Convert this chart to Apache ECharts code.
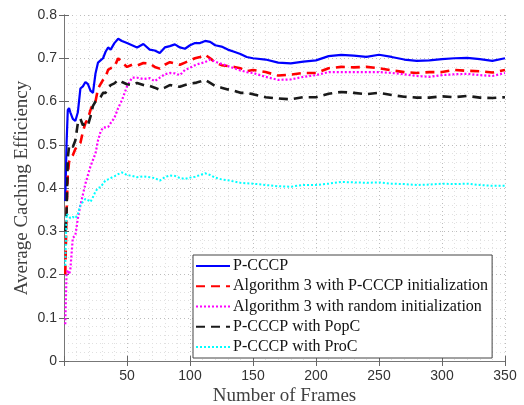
<!DOCTYPE html>
<html lang="en">
<head>
    <meta charset="UTF-8">
    <title>caching efficiency</title>
    <script src="https://cdn.jsdelivr.net/npm/echarts@6/dist/echarts.min.js"></script>
    <style>
        html, body { margin: 0; padding: 0; background: #fff; }
    </style>
</head>
<body>
<div id="main" style="width:524px;height:405px;"></div>
<script>
    // frame numbers shared by every curve
    var frames = [1, 2, 3, 4, 5, 7, 9, 11, 13, 15, 17, 19, 21, 23, 25, 27, 29, 31, 33, 35, 37, 40, 43, 46, 50,
        54, 58, 63, 68, 72, 76, 80, 84, 88, 92, 96, 100, 104, 108, 112, 116, 120, 125, 130, 135, 140, 145, 150,
        160, 170, 180, 190, 200, 210, 220, 230, 240, 250, 260, 270, 280, 290, 300, 310, 320, 330, 340, 350];

    var pcccp = [0.37, 0.50, 0.58, 0.585, 0.575, 0.56, 0.555, 0.575, 0.63, 0.635, 0.645, 0.64, 0.625, 0.62, 0.665, 0.69, 0.695, 0.70, 0.715, 0.725, 0.72, 0.735, 0.745, 0.74, 0.735,
        0.73, 0.725, 0.733, 0.72, 0.718, 0.712, 0.725, 0.728, 0.732, 0.725, 0.722, 0.73, 0.735, 0.735, 0.74, 0.738, 0.73, 0.727, 0.72, 0.715, 0.71, 0.703, 0.70,
        0.697, 0.69, 0.688, 0.692, 0.695, 0.705, 0.708, 0.706, 0.703, 0.708, 0.703, 0.697, 0.694, 0.695, 0.698, 0.70, 0.701, 0.698, 0.694, 0.70];

    var alg3Pcccp = [0.20, 0.34, 0.43, 0.46, 0.47, 0.476, 0.49, 0.50, 0.504, 0.53, 0.55, 0.56, 0.58, 0.595, 0.60, 0.63, 0.64, 0.65, 0.657, 0.673, 0.677, 0.68, 0.70, 0.69, 0.68,
        0.685, 0.683, 0.689, 0.688, 0.68, 0.676, 0.685, 0.691, 0.688, 0.685, 0.69, 0.695, 0.70, 0.703, 0.708, 0.70, 0.69, 0.684, 0.682, 0.68, 0.677, 0.67, 0.673,
        0.668, 0.66, 0.662, 0.666, 0.666, 0.677, 0.68, 0.679, 0.68, 0.677, 0.672, 0.668, 0.666, 0.668, 0.668, 0.673, 0.671, 0.67, 0.667, 0.673];

    var alg3Random = [0.085, 0.20, 0.21, 0.20, 0.21, 0.285, 0.29, 0.33, 0.36, 0.385, 0.41, 0.43, 0.45, 0.465, 0.48, 0.51, 0.53, 0.54, 0.54, 0.541, 0.55, 0.562, 0.585, 0.603, 0.635,
        0.655, 0.655, 0.652, 0.654, 0.647, 0.655, 0.663, 0.666, 0.665, 0.661, 0.673, 0.678, 0.684, 0.688, 0.691, 0.697, 0.692, 0.687, 0.682, 0.677, 0.672, 0.668, 0.666,
        0.657, 0.65, 0.651, 0.657, 0.661, 0.668, 0.668, 0.668, 0.668, 0.668, 0.666, 0.663, 0.659, 0.657, 0.661, 0.663, 0.664, 0.661, 0.659, 0.666];

    var popC = [0.30, 0.34, 0.47, 0.495, 0.50, 0.495, 0.51, 0.55, 0.56, 0.545, 0.55, 0.545, 0.565, 0.59, 0.60, 0.605, 0.61, 0.62, 0.62, 0.63, 0.638, 0.642, 0.65, 0.645, 0.64,
        0.638, 0.643, 0.638, 0.636, 0.632, 0.627, 0.632, 0.638, 0.636, 0.634, 0.638, 0.641, 0.643, 0.646, 0.65, 0.643, 0.636, 0.632, 0.628, 0.625, 0.62, 0.62, 0.617,
        0.61, 0.607, 0.605, 0.61, 0.61, 0.618, 0.622, 0.62, 0.617, 0.62, 0.615, 0.611, 0.609, 0.609, 0.612, 0.61, 0.613, 0.609, 0.608, 0.61];

    var proC = [0.22, 0.34, 0.338, 0.335, 0.33, 0.333, 0.33, 0.34, 0.36, 0.368, 0.375, 0.372, 0.368, 0.379, 0.392, 0.40, 0.402, 0.41, 0.418, 0.42, 0.423, 0.427, 0.432, 0.436, 0.43,
        0.428, 0.425, 0.427, 0.425, 0.423, 0.417, 0.425, 0.429, 0.428, 0.423, 0.421, 0.424, 0.426, 0.43, 0.434, 0.43, 0.424, 0.42, 0.418, 0.415, 0.412, 0.411, 0.41,
        0.407, 0.404, 0.403, 0.407, 0.407, 0.41, 0.414, 0.413, 0.412, 0.413, 0.41, 0.409, 0.407, 0.408, 0.41, 0.409, 0.41, 0.407, 0.405, 0.405];

    var seriesNames = ['P-CCCP', 'Algorithm 3 with P-CCCP initialization', 'Algorithm 3 with random initialization',
        'P-CCCP with PopC', 'P-CCCP with ProC'];

    function pairs(vals) {
        var out = [];
        for (var i = 0; i < frames.length; i++) {
            out.push([frames[i], vals[i]]);
        }
        return out;
    }

    var myChart = echarts.init(document.getElementById('main'));

    var serif = 'Liberation Serif, Times New Roman, serif';
    var tickFont = { fontFamily: 'Liberation Sans, Arial, sans-serif', fontSize: 14, color: '#333' };
    var gridLine = { show: true, lineStyle: { color: '#bdbdbd', type: [1, 3], width: 1 } };
    var minorLine = { show: true, lineStyle: { color: '#e0e0e0', type: [1, 3], width: 1 } };

    function mkSeries(name, data, color, width, type) {
        return {
            name: name,
            type: 'line',
            data: pairs(data),
            symbol: 'none',
            showSymbol: false,
            animation: false,
            lineStyle: { color: color, width: width, type: type },
            itemStyle: { color: color },
            xAxisIndex: 0,
            yAxisIndex: 0
        };
    }

    var option = {
        animation: false,
        grid: { left: 64, right: 19, top: 15, bottom: 44, containLabel: false, outerBoundsMode: 'none' },
        legend: {
            orient: 'vertical',
            left: 193,
            top: 255,
            width: 300,
            padding: [3, 4, 3, 2],
            itemGap: 4.25,
            itemWidth: 34,
            itemHeight: 14,
            borderColor: '#444',
            borderWidth: 1,
            backgroundColor: '#fff',
            itemStyle: { opacity: 0 },
            textStyle: { fontFamily: serif, fontSize: 16, color: '#111', padding: [0, 0, 0, -2] },
            data: seriesNames
        },
        xAxis: [{
            type: 'value',
            min: 0,
            max: 350,
            interval: 50,
            name: 'Number of Frames',
            nameLocation: 'middle',
            nameGap: 26,
            nameMoveOverlap: false,
            nameTextStyle: { fontFamily: serif, fontSize: 19, color: '#404040' },
            axisLine: { show: true, onZero: false, lineStyle: { color: '#777' } },
            axisTick: { show: true, inside: true, length: 5, lineStyle: { color: '#666' } },
            axisLabel: Object.assign({ margin: 8, formatter: function (v) { return v === 0 ? '' : v; } }, tickFont),
            splitLine: gridLine,
            minorTick: { show: false, splitNumber: 5 },
            minorSplitLine: minorLine
        }, {
            type: 'value',
            position: 'top',
            min: 0,
            max: 350,
            interval: 50,
            axisLine: { show: true, lineStyle: { color: '#777' } },
            axisTick: { show: true, inside: true, length: 5, lineStyle: { color: '#666' } },
            axisLabel: { show: false },
            splitLine: { show: false }
        }],
        yAxis: [{
            type: 'value',
            min: 0,
            max: 0.8,
            interval: 0.1,
            name: 'Average Caching Efficiency',
            nameLocation: 'middle',
            nameGap: 32,
            nameMoveOverlap: false,
            nameTextStyle: { fontFamily: serif, fontSize: 19, color: '#404040' },
            axisLine: { show: true, onZero: false, lineStyle: { color: '#777' } },
            axisTick: { show: true, inside: true, length: 5, lineStyle: { color: '#666' } },
            axisLabel: Object.assign({ margin: 7, formatter: function (v) { return v === 0 ? '0' : v.toFixed(1); } }, tickFont),
            splitLine: gridLine,
            minorTick: { show: false, splitNumber: 5 },
            minorSplitLine: minorLine
        }, {
            type: 'value',
            position: 'right',
            min: 0,
            max: 0.8,
            interval: 0.1,
            axisLine: { show: true, lineStyle: { color: '#777' } },
            axisTick: { show: true, inside: true, length: 5, lineStyle: { color: '#666' } },
            axisLabel: { show: false },
            splitLine: { show: false }
        }],
        series: [
            mkSeries(seriesNames[0], pcccp, '#0000ff', 2.2, 'solid'),
            mkSeries(seriesNames[1], alg3Pcccp, '#ff0000', 2.6, [9, 6]),
            mkSeries(seriesNames[2], alg3Random, '#ff00ff', 2.2, [2, 2]),
            mkSeries(seriesNames[3], popC, '#1a1a1a', 2.6, [9, 6]),
            mkSeries(seriesNames[4], proC, '#00ffff', 2, [2, 2])
        ]
    };

    myChart.setOption(option);
</script>
</body>
</html>
